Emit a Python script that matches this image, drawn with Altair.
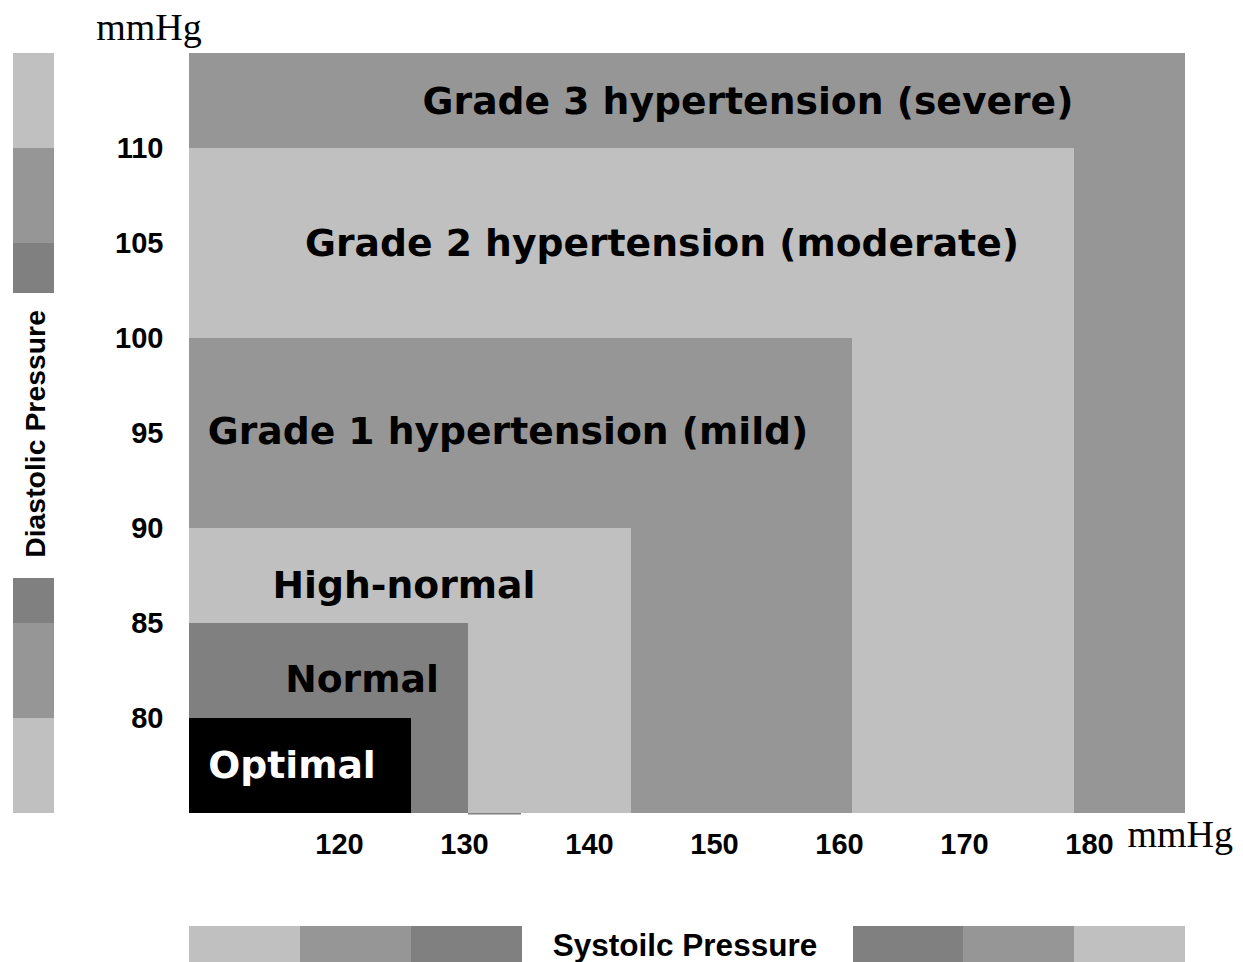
import altair as alt
import pandas as pd

# --- data ---
categories = ["Grade 3 hypertension (severe)", "Grade 2 hypertension (moderate)",
              "Grade 1 hypertension (mild)", "High-normal", "Normal", "Optimal"]
sys_upper = [187.68, 178.8, 161.04, 143.36, 130.32, 125.76]
dia_upper = [115, 110, 100, 90, 85, 80]
zone_fill = ["#969696", "#c0c0c0", "#969696", "#c0c0c0", "#808080", "#000000"]
label_sys = [152.72, 145.84, 133.52, 125.2, 121.84, 116.24]
label_dia = [112.37, 104.9, 95.0, 86.9, 81.95, 77.43]
label_color = ["black", "black", "black", "black", "black", "white"]

# left strip (diastolic scale key)
left_lo = [110, 105, 102.37, 85, 80, 75]
left_hi = [115, 110, 105, 87.37, 85, 80]
left_fill = ["#c0c0c0", "#969696", "#808080", "#808080", "#969696", "#c0c0c0"]
# bottom strip (systolic scale key)
bot_lo = [108, 116.88, 125.76, 161.12, 169.92, 178.8]
bot_hi = [116.88, 125.76, 134.64, 169.92, 178.8, 187.68]
bot_fill = ["#c0c0c0", "#969696", "#808080", "#808080", "#969696", "#c0c0c0"]

x_ticks = [120, 130, 140, 150, 160, 170, 180]
y_ticks = [80, 85, 90, 95, 100, 105, 110]

XDOM = [108, 187.68]
YDOM = [75, 115]

rows = []
for c, xu, yu, f in zip(categories, sys_upper, dia_upper, zone_fill):
    rows.append(dict(x=108, x2=xu, y=75, y2=yu, fill=f, order=len(rows)))
# thin sliver at the bottom edge
rows.append(dict(x=130.32, x2=134.56, y=74.92, y2=75, fill="#808080", order=len(rows)))
for lo, hi, f in zip(left_lo, left_hi, left_fill):
    rows.append(dict(x=93.92, x2=97.2, y=lo, y2=hi, fill=f, order=len(rows)))
for lo, hi, f in zip(bot_lo, bot_hi, bot_fill):
    rows.append(dict(x=lo, x2=hi, y=66.5, y2=69.05, fill=f, order=len(rows)))
rect_df = pd.DataFrame(rows)

xs = alt.Scale(domain=XDOM, nice=False, zero=False)
ys = alt.Scale(domain=YDOM, nice=False, zero=False)
x_axis = alt.Axis(values=x_ticks, title=None, domain=False, ticks=False, grid=False,
                  labelFont="Liberation Sans", labelFontWeight="bold", labelFontSize=29,
                  labelColor="black", labelPadding=17, labelFlush=False)
y_axis = alt.Axis(values=y_ticks, title=None, domain=False, ticks=False, grid=False,
                  labelFont="Liberation Sans", labelFontWeight="bold", labelFontSize=29,
                  labelColor="black", labelPadding=26, labelFlush=False)


def X(f):
    return alt.X(f, scale=xs, axis=x_axis, title=None)


def Y(f):
    return alt.Y(f, scale=ys, axis=y_axis, title=None)


rects = alt.Chart(rect_df).mark_rect().encode(
    x=X("x:Q"), x2="x2:Q", y=Y("y:Q"), y2="y2:Q",
    color=alt.Color("fill:N", scale=None),
    order="order:Q",
)

lab_df = pd.DataFrame(dict(text=categories, x=label_sys, y=label_dia, col=label_color))
labels = alt.Chart(lab_df).mark_text(
    font="DejaVu Sans", fontWeight="bold", fontSize=37.7, align="center", baseline="middle"
).encode(x=X("x:Q"), y=Y("y:Q"), text="text:N", color=alt.Color("col:N", scale=None))

dia_title = alt.Chart(pd.DataFrame(dict(text=["Diastolic Pressure"], x=[95.76], y=[94.95]))).mark_text(
    font="Liberation Sans", fontWeight="bold", fontSize=28.4, angle=270, align="center",
    baseline="middle", color="black"
).encode(x=X("x:Q"), y=Y("y:Q"), text="text:N")

sys_title = alt.Chart(pd.DataFrame(dict(text=["Systoilc Pressure"], x=[147.68], y=[67.95]))).mark_text(
    font="Liberation Sans", fontWeight="bold", fontSize=31.5, align="center",
    baseline="middle", color="black"
).encode(x=X("x:Q"), y=Y("y:Q"), text="text:N")

unit_df = pd.DataFrame(dict(text=["mmHg", "mmHg"], x=[104.8, 187.3], y=[115.68, 73.2]))
units = alt.Chart(unit_df).mark_text(
    font="Liberation Serif", fontSize=38, align="center", baseline="alphabetic", color="black"
).encode(x=X("x:Q"), y=Y("y:Q"), text="text:N")

chart = alt.layer(rects, labels, dia_title, sys_title, units).properties(
    width=996, height=760,
    autosize=alt.AutoSizeParams(type="none"),
    padding={"left": 181, "top": 45, "right": 50, "bottom": 149},
).configure_view(stroke=None)

chart.save("out.html", embed_options={"renderer": "svg", "actions": False})
